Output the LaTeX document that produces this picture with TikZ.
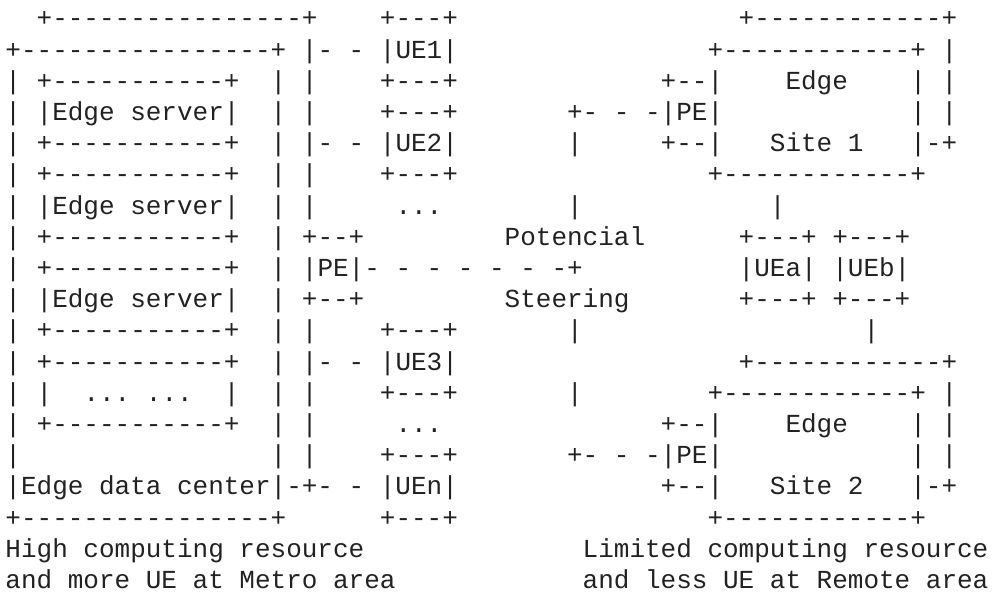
\documentclass[tikz,border=0pt]{standalone}
\usepackage{fontspec}
\setmonofont{Liberation Mono}
\definecolor{ink}{HTML}{222222}
\begin{document}
\begin{tikzpicture}
    [x=15.6pt, y=-31.2pt,
     ascii/.style={anchor=base west, inner sep=0pt, outer sep=0pt, text=ink,
                   font=\ttfamily\fontsize{26pt}{31.2pt}\selectfont}]
    \useasboundingbox (-5.5pt,27pt) rectangle (988.5pt,-566pt);
    % row/column/text of every piece of the sketch
    \foreach \r/\c/\t in {
        0/2/{+----------------+}, 0/24/{+---+}, 0/47/{+------------+},
        1/0/{+----------------+}, 1/19/{|- - |UE1|}, 1/45/{+------------+ |},
        2/0/{| +-----------+}, 2/17/{| |}, 2/24/{+---+}, 2/42/{+--|}, 2/50/{Edge}, 2/58/{| |},
        3/0/{| |Edge server|}, 3/17/{| |}, 3/24/{+---+}, 3/36/{+- - -|PE|}, 3/58/{| |},
        4/0/{| +-----------+}, 4/17/{| |- - |UE2|}, 4/36/{|}, 4/42/{+--|}, 4/49/{Site 1}, 4/58/{|-+},
        5/0/{| +-----------+}, 5/17/{| |}, 5/24/{+---+}, 5/45/{+------------+},
        6/0/{| |Edge server|}, 6/17/{| |}, 6/25/{...}, 6/36/{|}, 6/49/{|},
        7/0/{| +-----------+}, 7/17/{| +--+}, 7/32/{Potencial}, 7/47/{+---+ +---+},
        8/0/{| +-----------+}, 8/17/{| |PE|- - - - - - -+}, 8/47/{|UEa| |UEb|},
        9/0/{| |Edge server|}, 9/17/{| +--+}, 9/32/{Steering}, 9/47/{+---+ +---+},
        10/0/{| +-----------+}, 10/17/{| |}, 10/24/{+---+}, 10/36/{|}, 10/55/{|},
        11/0/{| +-----------+}, 11/17/{| |- - |UE3|}, 11/47/{+------------+},
        12/0/{| |}, 12/5/{... ...}, 12/14/{|}, 12/17/{| |}, 12/24/{+---+}, 12/36/{|}, 12/45/{+------------+ |},
        13/0/{| +-----------+}, 13/17/{| |}, 13/25/{...}, 13/42/{+--|}, 13/50/{Edge}, 13/58/{| |},
        14/0/{|}, 14/17/{| |}, 14/24/{+---+}, 14/36/{+- - -|PE|}, 14/58/{| |},
        15/0/{|Edge data center|-+- - |UEn|}, 15/42/{+--|}, 15/49/{Site 2}, 15/58/{|-+},
        16/0/{+----------------+}, 16/24/{+---+}, 16/45/{+------------+},
        17/0/{High computing resource}, 17/37/{Limited computing resource},
        18/0/{and more UE at Metro area}, 18/37/{and less UE at Remote area}}
        \node[ascii] (piece-\r-\c) at (\c,\r) {\t};
\end{tikzpicture}
\end{document}
